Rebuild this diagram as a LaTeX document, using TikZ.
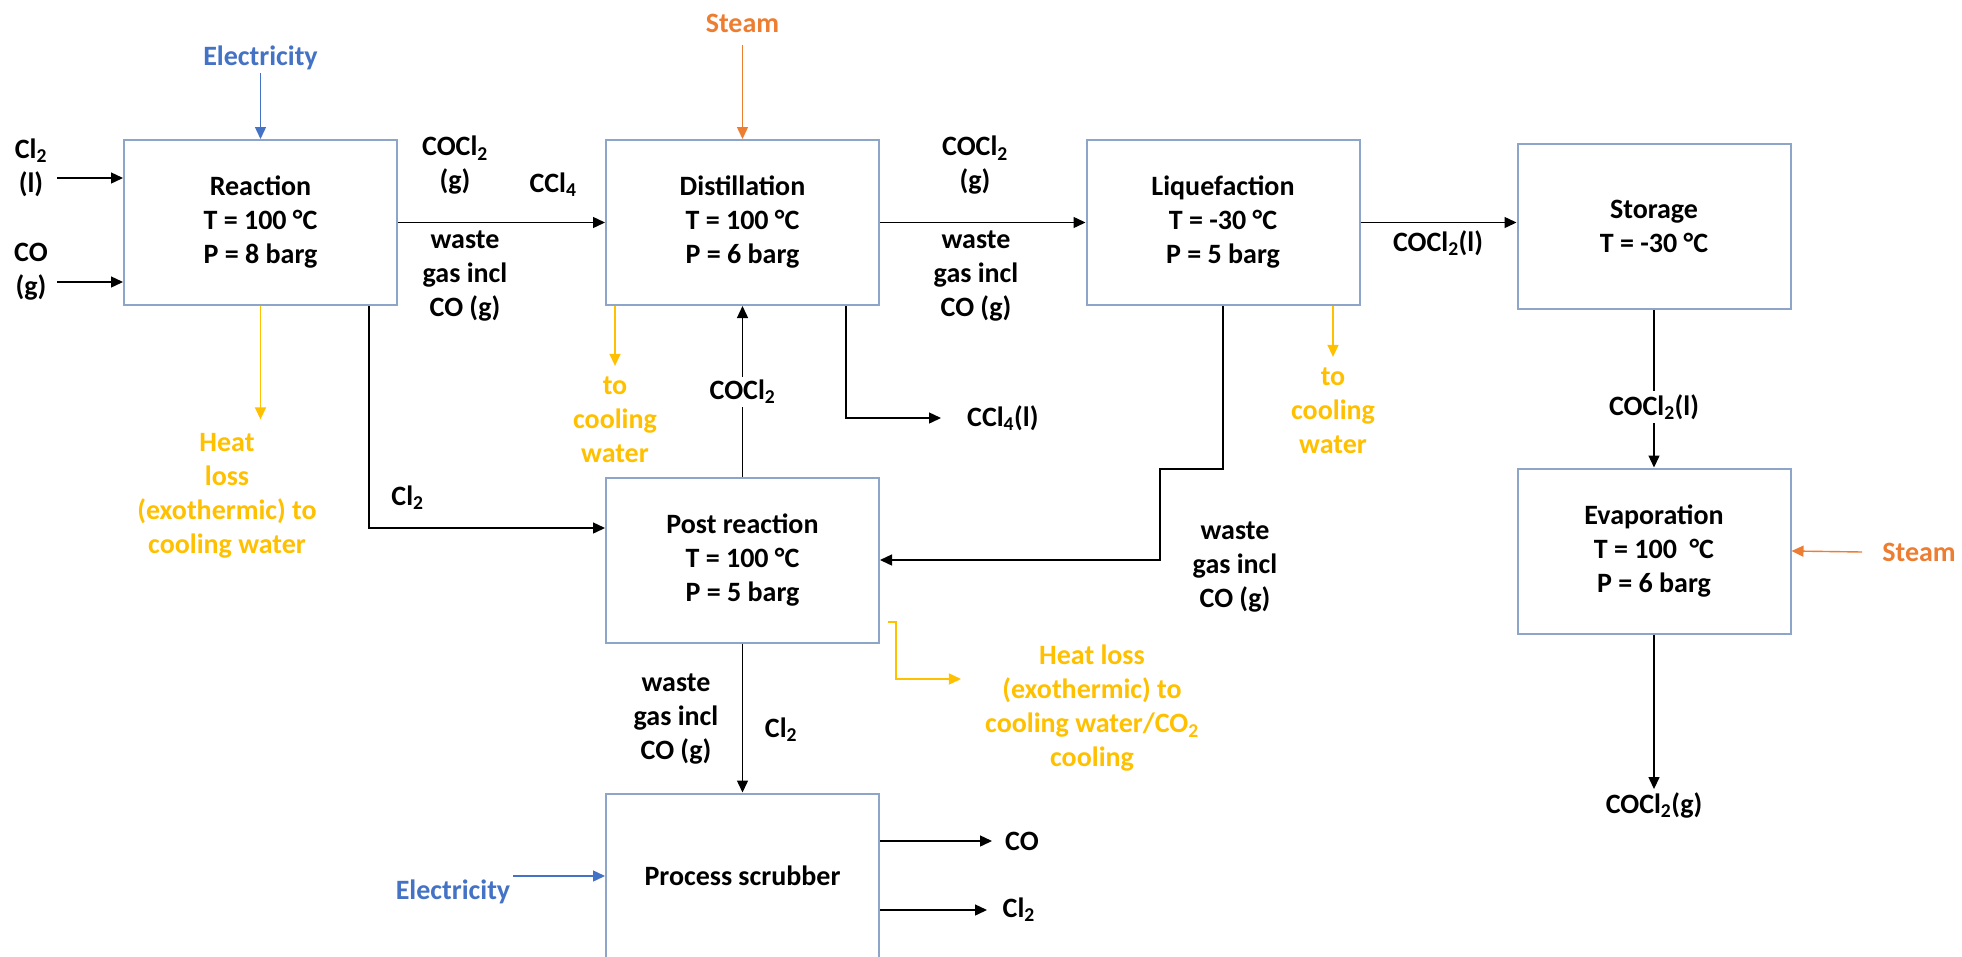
\documentclass[tikz,border=0pt]{standalone}
\usepackage{fontspec}
\setmainfont{Carlito}
\usetikzlibrary{arrows.meta}

\definecolor{boxblue}{RGB}{140,165,200}
\definecolor{elecblue}{RGB}{68,114,196}
\definecolor{steamorange}{RGB}{237,125,49}
\definecolor{coolyellow}{RGB}{255,192,0}

\tikzset{
  procbox/.style={draw=boxblue, line width=2pt, fill=white, minimum width=273pt, minimum height=165pt, align=center, inner sep=3pt},
  lbl/.style={align=center, inner sep=3pt},
  flow/.style={-{Triangle[length=12pt,width=11pt]}, line width=1.4pt},
  elecarrow/.style={flow, draw=elecblue},
  steamarrow/.style={flow, draw=steamorange},
  coolarrow/.style={flow, draw=coolyellow}
}

\begin{document}
\begin{tikzpicture}[x=1pt, y=-1pt, font=\fontsize{28}{34}\selectfont\bfseries]
\path[use as bounding box, fill=white] (0,0) rectangle (1962,956);
\clip (0,0) rectangle (1962,956);

% process units
\node[procbox] (reaction) at (260.5,222.5) {Reaction\\T = 100 °C\\P = 8 barg};
\node[procbox] (distil) at (742.5,222.5) {Distillation\\T = 100 °C\\P = 6 barg};
\node[procbox] (liquef) at (1223,222.5) {Liquefaction\\T = -30 °C\\P = 5 barg};
\node[procbox] (storage) at (1654,226.5) {Storage\\T = -30 °C};
\node[procbox] (evap) at (1654,551) {Evaporation\\T = 100\ \ °C\\P = 6 barg};
\node[procbox] (post) at (742.5,560) {Post reaction\\T = 100 °C\\P = 5 barg};
\node[procbox] (scrub) at (742.5,876) {Process scrubber};

% feeds
\node[lbl] (cl2in) at (31,168) {Cl\textsubscript{2}\\(l)};
\node[lbl] (coin) at (31,272) {CO\\(g)};
\coordinate (cl2src) at (57,178);
\coordinate (cosrc) at (57,282);
\draw[flow] (cl2src) -- (cl2src -| reaction.west);
\draw[flow] (cosrc) -- (cosrc -| reaction.west);
\node[lbl, text=elecblue] (elec1) at (260.5,58) {Electricity};
\draw[elecarrow] (elec1) -- (reaction);

% reaction to distillation
\draw[flow] (reaction) -- (distil);
\node[lbl] (rdgas) at (455,165.5) {COCl\textsubscript{2}\\(g)};
\node[lbl] (rdccl4) at (553,185) {CCl\textsubscript{4}};
\node[lbl] (rdwaste) at (465,276.5) {waste\\gas incl\\CO (g)};
\node[lbl, text=steamorange] (steam1) at (742.5,23) {Steam};
\draw[steamarrow, shorten <=10pt] (steam1) -- (distil);

% distillation to liquefaction
\draw[flow] (distil) -- (liquef);
\node[lbl] (dlgas) at (975,165.5) {COCl\textsubscript{2}\\(g)};
\node[lbl] (dlwaste) at (976,276.5) {waste\\gas incl\\CO (g)};

% liquefaction to storage to evaporation
\draw[flow] (liquef.east) -- (liquef.east -| storage.west);
\node[lbl] (lsliq) at (1438,243) {COCl\textsubscript{2}(l)};
\draw[flow] (storage) -- (evap);
\node[lbl, fill=white] (seliq) at (1654,407) {COCl\textsubscript{2}(l)};
\node[lbl, text=steamorange] (steam2) at (1919,552) {Steam};
\draw[steamarrow] ([xshift=-17pt]steam2.west) -- (evap.east);
\node[lbl] (gasout) at (1654,805) {COCl\textsubscript{2}(g)};
\draw[flow] (evap) -- (gasout);

% heat removal
\node[lbl, text=coolyellow] (heat1) at (227,496) {Heat\\loss\\(exothermic) to\\cooling water};
\draw[coolarrow, shorten >=11pt] (reaction) -- (reaction |- heat1.north);
\node[lbl, text=coolyellow] (cw1) at (615,420) {to\\cooling\\water};
\draw[coolarrow] (cw1.north |- distil.south) -- ([yshift=8pt]cw1.north);
\node[lbl, text=coolyellow] (cw2) at (1333,411) {to\\cooling\\water};
\draw[coolarrow] (cw2.north |- liquef.south) -- ([yshift=8pt]cw2.north);

% recycles into post reaction
\draw[flow] ([xshift=-29pt]reaction.south east) |- ([yshift=32pt]post.west);
\node[lbl] (rpcl2) at (407.5,498) {Cl\textsubscript{2}};
\draw[flow] (post) -- (distil);
\node[lbl, fill=white] (pdgas) at (742.5,392) {COCl\textsubscript{2}};
\draw[flow] (liquef.south) -- ++(0,163) -- ++(-63,0) |- (post.east);
\node[lbl] (lpwaste) at (1235,567) {waste\\gas incl\\CO (g)};

% CCl4 out
\node[lbl, anchor=west] (ccl4out) at (964,418) {CCl\textsubscript{4}(l)};
\draw[flow] ([xshift=-34pt]distil.south east) |- ([xshift=-23pt]ccl4out.west);

% post reaction to scrubber
\draw[flow] (post) -- (scrub);
\node[lbl] (pswaste) at (676,719) {waste\\gas incl\\CO (g)};
\node[lbl] (pscl2) at (781,730) {Cl\textsubscript{2}};
\node[lbl, text=coolyellow] (heat2) at (1092,708.5) {Heat loss\\(exothermic) to\\cooling water/CO\textsubscript{2}\\cooling};
\draw[coolarrow] ([shift={(8pt,-62pt)}]post.east) -- ++(8,0) |- ([shift={(-21pt,29.5pt)}]heat2.west);

% scrubber
\node[lbl, text=elecblue] (elec2) at (453,892) {Electricity};
\draw[elecarrow] (elec2.east |- scrub.west) -- (scrub.west);
\node[lbl, anchor=west] (coout) at (1002,841) {CO};
\draw[flow] ([yshift=35pt]scrub.east) -- ([xshift=-10pt]coout.west);
\node[lbl, anchor=west] (cl2out) at (999.5,910) {Cl\textsubscript{2}};
\draw[flow] ([yshift=-34pt]scrub.east) -- ([xshift=-12.5pt]cl2out.west);

\end{tikzpicture}
\end{document}
